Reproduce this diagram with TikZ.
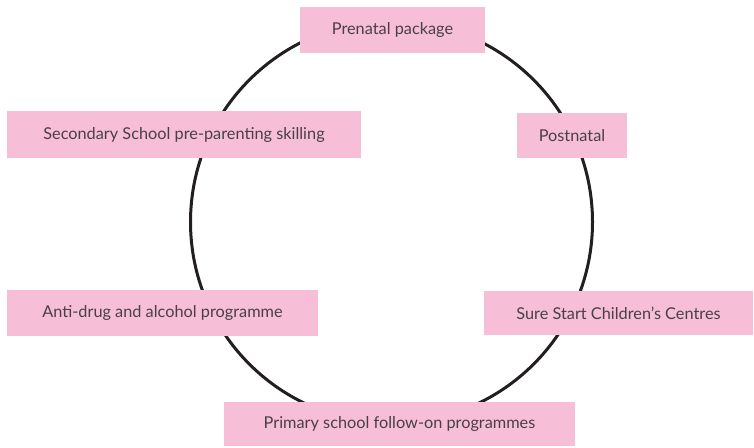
\documentclass[tikz,border=0pt]{standalone}
\usepackage{fontspec}
\setmainfont{Lato}
\definecolor{boxpink}{HTML}{F6BFD7}
\definecolor{txtgray}{HTML}{4A3F48}
\definecolor{ringcol}{HTML}{231F20}
\begin{document}
\begin{tikzpicture}[x=1pt,y=-1pt,
  stagebox/.style={fill=boxpink, draw=none, text=txtgray, inner sep=0pt,
    font=\fontsize{16.3}{19}\selectfont, anchor=center}]
\useasboundingbox (0,0) rectangle (754,447);
\draw[ringcol, line width=3pt] (391.5,222) circle[radius=201];
\node[stagebox, minimum width=185, minimum height=46] (pre) at (392.5,29.5) {Prenatal package};
\node[stagebox, minimum width=110, minimum height=45] (post) at (572,135.5) {Postnatal};
\node[stagebox, minimum width=354, minimum height=47] (sec) at (184,134.5) {Secondary School pre-parenting skilling};
\node[stagebox, minimum width=311, minimum height=46] (anti) at (162.5,313) {Anti-drug and alcohol programme};
\node[stagebox, minimum width=269, minimum height=44] (sure) at (618.5,313) {Sure Start Children's Centres};
\node[stagebox, minimum width=351, minimum height=44] (prim) at (399.5,424) {Primary school follow-on programmes};
\end{tikzpicture}
\end{document}
